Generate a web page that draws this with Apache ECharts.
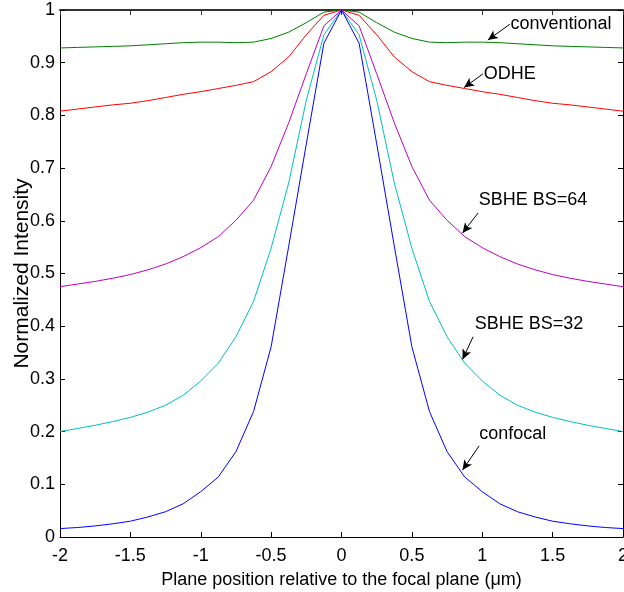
<!DOCTYPE html>
<html>
<head>
<meta charset="utf-8">
<script src="https://cdn.jsdelivr.net/npm/echarts@6/dist/echarts.min.js"></script>
<style>html,body{margin:0;padding:0;background:#fff}#c{width:624px;height:592px}</style>
</head>
<body>
<div id="c"></div>
<script>
// Plane positions (µm)
const xs = [-2,-1.875,-1.75,-1.625,-1.5,-1.375,-1.25,-1.125,-1,-0.875,-0.75,-0.625,-0.5,-0.375,-0.25,-0.125,0,
  0.125,0.25,0.375,0.5,0.625,0.75,0.875,1,1.125,1.25,1.375,1.5,1.625,1.75,1.875,2];

const conventional = [0.928,0.929,0.930,0.931,0.932,0.934,0.936,0.938,0.939,0.939,0.938,0.939,0.946,0.958,0.976,0.996,1,
  0.996,0.976,0.958,0.946,0.939,0.938,0.939,0.939,0.938,0.936,0.934,0.932,0.931,0.930,0.929,0.928];
const odhe = [0.808,0.812,0.816,0.820,0.823,0.828,0.834,0.840,0.845,0.851,0.857,0.864,0.883,0.911,0.953,0.990,1,
  0.990,0.953,0.911,0.883,0.864,0.857,0.851,0.845,0.840,0.834,0.828,0.823,0.820,0.816,0.812,0.808];
const sbhe64 = [0.475,0.480,0.485,0.491,0.498,0.507,0.518,0.532,0.549,0.570,0.601,0.639,0.703,0.786,0.879,0.970,1,
  0.970,0.879,0.786,0.703,0.639,0.601,0.570,0.549,0.532,0.518,0.507,0.498,0.491,0.485,0.480,0.475];
const sbhe32 = [0.200,0.206,0.212,0.219,0.227,0.237,0.250,0.269,0.296,0.330,0.380,0.447,0.548,0.672,0.829,0.953,1,
  0.953,0.829,0.672,0.548,0.447,0.380,0.330,0.296,0.269,0.250,0.237,0.227,0.219,0.212,0.206,0.200];
const confocal = [0.016,0.018,0.021,0.025,0.030,0.038,0.048,0.063,0.086,0.114,0.162,0.238,0.361,0.552,0.746,0.937,1,
  0.937,0.746,0.552,0.361,0.238,0.162,0.114,0.086,0.063,0.048,0.038,0.030,0.025,0.021,0.018,0.016];

// Annotations: [label, textX, textY, tailX, tailY, tipX, tipY]
const notes = {
  conventional: ['conventional', 1.20, 0.973, 1.196, 0.973, 1.04, 0.943],
  odhe: ['ODHE', 1.011, 0.879, 1.006, 0.879, 0.871, 0.853],
  sbhe64: ['SBHE BS=64', 0.975, 0.639, 0.971, 0.615, 0.86, 0.577],
  sbhe32: ['SBHE BS=32', 0.947, 0.405, 0.935, 0.380, 0.86, 0.337],
  confocal: ['confocal', 0.978, 0.195, 0.978, 0.173, 0.86, 0.127]
};

const FONT = "'Liberation Sans Narrow','Liberation Sans',Arial,sans-serif";

function mk(name, data, color, note) {
  return {
    name: name, type: 'line', xAxisIndex: 0, yAxisIndex: 0,
    data: xs.map((x, i) => [x, data[i]]),
    showSymbol: false, symbol: 'none',
    lineStyle: { color: color, width: 1 },
    itemStyle: { color: color },
    z: 3,
    animation: false,
    markLine: {
      silent: true, animation: false,
      symbol: ['none', 'arrow'], symbolSize: [7, 10],
      lineStyle: { color: '#000', width: 1, type: 'solid' },
      label: { show: false },
      data: [[{ coord: [note[3], note[4]] }, { coord: [note[5], note[6]] }]]
    },
    markPoint: {
      silent: true, animation: false,
      symbol: 'circle', symbolSize: 0,
      data: [{
        coord: [note[1], note[2]],
        label: { show: true, position: 'right', distance: 0, formatter: note[0],
          color: '#000', fontSize: 18, fontFamily: FONT }
      }]
    }
  };
}

const chart = echarts.init(document.getElementById('c'), null, { renderer: 'canvas' });
chart.setOption({
  animation: false,
  backgroundColor: '#fff',
  grid: { left: 60, right: 1, top: 10, bottom: 55, containLabel: false, outerBoundsMode: 'none' },
  xAxis: [{
    type: 'value', min: -2, max: 2, interval: 0.5, position: 'bottom',
    name: 'Plane position relative to the focal plane (\u03bcm)',
    nameLocation: 'middle', nameGap: 34, nameMoveOverlap: false,
    nameTextStyle: { color: '#000', fontSize: 18, fontFamily: FONT },
    axisLine: { show: true, onZero: false, lineStyle: { color: '#000', width: 1 } },
    axisTick: { show: true, inside: true, length: 5, lineStyle: { color: '#000' } },
    axisLabel: { color: '#000', fontSize: 18, fontFamily: FONT, margin: 10, showMaxLabel: true, showMinLabel: true,
      hideOverlap: false, formatter: v => String(v) },
    splitLine: { show: false }
  }, {
    type: 'value', min: -2, max: 2, interval: 0.5, position: 'top',
    axisLine: { show: true, onZero: false, lineStyle: { color: '#333', width: 2 } },
    axisTick: { show: true, inside: true, length: 5, lineStyle: { color: '#333' } },
    axisLabel: { show: false }, splitLine: { show: false }
  }],
  yAxis: [{
    type: 'value', min: 0, max: 1, interval: 0.1, position: 'left',
    name: 'Normalized Intensity', nameLocation: 'middle', nameGap: 38, nameRotate: 90, nameMoveOverlap: false,
    nameTextStyle: { color: '#000', fontSize: 21, fontFamily: "'Liberation Sans',Arial,sans-serif",
      verticalAlign: 'middle' },
    axisLine: { show: true, onZero: false, lineStyle: { color: '#000', width: 1 } },
    axisTick: { show: true, inside: true, length: 5, lineStyle: { color: '#000' } },
    axisLabel: { color: '#000', fontSize: 18, fontFamily: FONT, margin: 5, hideOverlap: false,
      formatter: v => String(Math.round(v * 10) / 10) },
    splitLine: { show: false }
  }, {
    type: 'value', min: 0, max: 1, interval: 0.1, position: 'right',
    axisLine: { show: true, onZero: false, lineStyle: { color: '#000', width: 1 } },
    axisTick: { show: true, inside: true, length: 5, lineStyle: { color: '#000' } },
    axisLabel: { show: false }, splitLine: { show: false }
  }],
  series: [
    mk('conventional', conventional, '#008000', notes.conventional),
    mk('ODHE', odhe, '#ff0000', notes.odhe),
    mk('SBHE BS=64', sbhe64, '#bf00bf', notes.sbhe64),
    mk('SBHE BS=32', sbhe32, '#00bfbf', notes.sbhe32),
    mk('confocal', confocal, '#0000ff', notes.confocal)
  ]
});
</script>
</body>
</html>
